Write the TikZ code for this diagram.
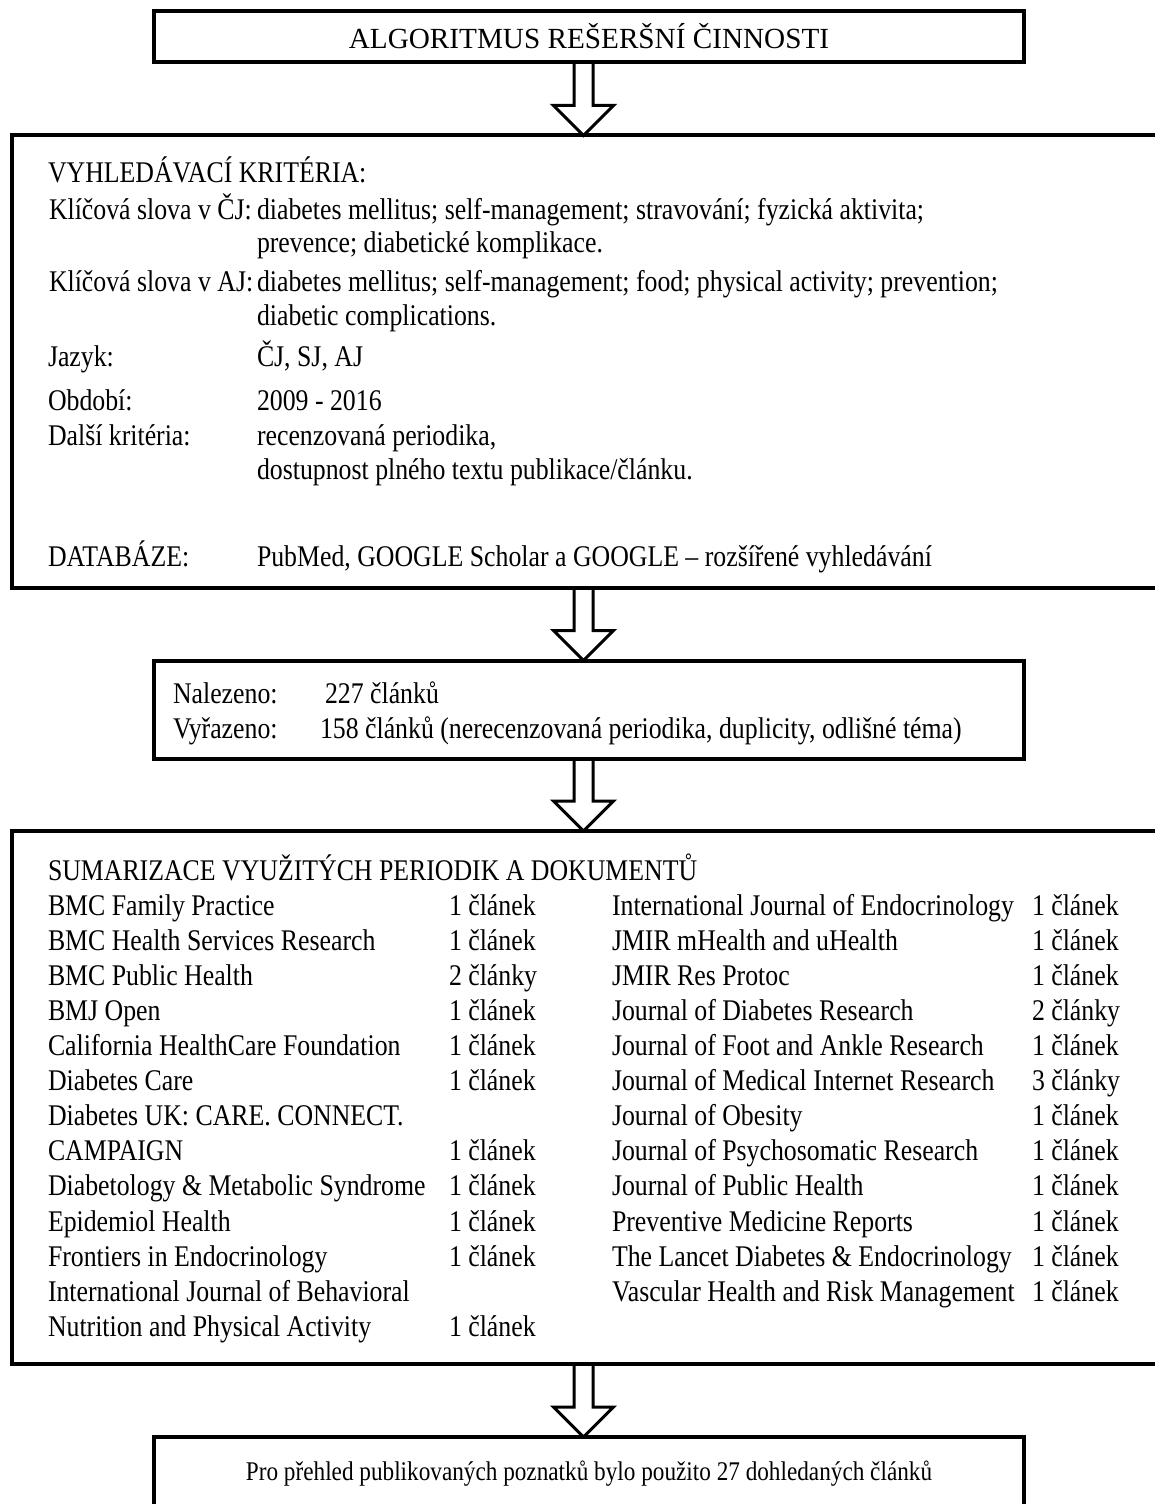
\documentclass[tikz,border=0pt]{standalone}
\usepackage{fontspec}
\setmainfont[FakeStretch=0.86]{Liberation Serif}
\newfontfamily\titlefont{Liberation Serif}
\usetikzlibrary{calc}

\tikzset{
  box/.style={draw, line width=2pt, inner sep=0pt, outer sep=0pt, anchor=north west},
  txt/.style={anchor=base west, inner sep=0pt, outer sep=0pt},
  hollow/.style={draw, line width=1.5pt, line join=miter},
}

\begin{document}
\begin{tikzpicture}[x=0.5pt, y=-0.5pt, every node/.style={font=\fontsize{15pt}{17.35pt}\selectfont}]

\useasboundingbox (0,0) rectangle (1155,1504);

\node[box, minimum width=435pt, minimum height=25.5pt, font=\titlefont\fontsize{14.6pt}{17pt}\selectfont] (title) at (154,11) {ALGORITMUS REŠERŠNÍ ČINNOSTI};
\node[box, minimum width=581.5pt, minimum height=226.25pt] (criteria) at (12,135.5) {};
\node[box, minimum width=435pt, minimum height=49pt] (found) at (154,660.5) {};
\node[box, minimum width=581.5pt, minimum height=266.5pt] (summary) at (12,831) {};
\node[box, minimum width=435pt, minimum height=37pt, font=\fontsize{13.5pt}{16pt}\selectfont] (result) at (154,1437) {Pro přehled publikovaných poznatků bylo použito 27 dohledaných článků};

\coordinate (axis) at (583.5,0);

\draw[hollow] ($(axis |- title.south)+(-9.5,0)$) -- ($(axis |- criteria.north)+(-9.5,-30)$) -- ($(axis |- criteria.north)+(-30,-30)$) -- (axis |- criteria.north) -- ($(axis |- criteria.north)+(30,-30)$) -- ($(axis |- criteria.north)+(9.5,-30)$) -- ($(axis |- title.south)+(9.5,0)$);
\draw[hollow] ($(axis |- criteria.south)+(-9.5,0)$) -- ($(axis |- found.north)+(-9.5,-30)$) -- ($(axis |- found.north)+(-30,-30)$) -- (axis |- found.north) -- ($(axis |- found.north)+(30,-30)$) -- ($(axis |- found.north)+(9.5,-30)$) -- ($(axis |- criteria.south)+(9.5,0)$);
\draw[hollow] ($(axis |- found.south)+(-9.5,0)$) -- ($(axis |- summary.north)+(-9.5,-30)$) -- ($(axis |- summary.north)+(-30,-30)$) -- (axis |- summary.north) -- ($(axis |- summary.north)+(30,-30)$) -- ($(axis |- summary.north)+(9.5,-30)$) -- ($(axis |- found.south)+(9.5,0)$);
\draw[hollow] ($(axis |- summary.south)+(-9.5,0)$) -- ($(axis |- result.north)+(-9.5,-30)$) -- ($(axis |- result.north)+(-30,-30)$) -- (axis |- result.north) -- ($(axis |- result.north)+(30,-30)$) -- ($(axis |- result.north)+(9.5,-30)$) -- ($(axis |- summary.south)+(9.5,0)$);

% vyhledavaci kriteria
\node[txt] (crit) at (48,182) {VYHLEDÁVACÍ KRITÉRIA:};
\node[txt] (kwcz) at (49,219) {Klíčová slova v ČJ:};
\node[txt] (kwczA) at (257,219) {diabetes mellitus; self-management; stravování; fyzická aktivita;};
\node[txt] (kwczB) at (257,252) {prevence; diabetické komplikace.};
\node[txt] (kwen) at (49,291) {Klíčová slova v AJ:};
\node[txt] (kwenA) at (257,291) {diabetes mellitus; self-management; food; physical activity; prevention;};
\node[txt] (kwenB) at (257,325) {diabetic complications.};
\node[txt] (lang) at (48,366) {Jazyk:};
\node[txt] (langA) at (257,366) {ČJ, SJ, AJ};
\node[txt] (period) at (48,410) {Období:};
\node[txt] (periodA) at (257,410) {2009 - 2016};
\node[txt] (other) at (48,445) {Další kritéria:};
\node[txt] (otherA) at (257,445) {recenzovaná periodika,};
\node[txt] (otherB) at (257,479) {dostupnost plného textu publikace/článku.};
\node[txt] (db) at (48,566) {DATABÁZE:};
\node[txt] (dbA) at (257,566) {PubMed, GOOGLE Scholar a GOOGLE – rozšířené vyhledávání};

% nalezeno / vyrazeno
\node[txt] (fnd) at (173,703) {Nalezeno:};
\node[txt] (fndA) at (325,703) {227 článků};
\node[txt] (rej) at (173,738) {Vyřazeno:};
\node[txt] (rejA) at (320,738) {158 článků (nerecenzovaná periodika, duplicity, odlišné téma)};

% sumarizace
\node[txt] (sum) at (48,880) {SUMARIZACE VYUŽITÝCH PERIODIK A DOKUMENTŮ};

\node[txt] (l1) at (48,915.1) {BMC Family Practice};
\node[txt] (l1n) at (449,915.1) {1 článek};
\node[txt] (l2) at (48,950.2) {BMC Health Services Research};
\node[txt] (l2n) at (449,950.2) {1 článek};
\node[txt] (l3) at (48,985.3) {BMC Public Health};
\node[txt] (l3n) at (449,985.3) {2 články};
\node[txt] (l4) at (48,1020.4) {BMJ Open};
\node[txt] (l4n) at (449,1020.4) {1 článek};
\node[txt] (l5) at (48,1055.5) {California HealthCare Foundation};
\node[txt] (l5n) at (449,1055.5) {1 článek};
\node[txt] (l6) at (48,1090.6) {Diabetes Care};
\node[txt] (l6n) at (449,1090.6) {1 článek};
\node[txt] (l7) at (48,1125.7) {Diabetes UK: CARE. CONNECT.};
\node[txt] (l8) at (48,1160.8) {CAMPAIGN};
\node[txt] (l8n) at (449,1160.8) {1 článek};
\node[txt] (l9) at (48,1195.9) {Diabetology \& Metabolic Syndrome};
\node[txt] (l9n) at (449,1195.9) {1 článek};
\node[txt] (l10) at (48,1231) {Epidemiol Health};
\node[txt] (l10n) at (449,1231) {1 článek};
\node[txt] (l11) at (48,1266.1) {Frontiers in Endocrinology};
\node[txt] (l11n) at (449,1266.1) {1 článek};
\node[txt] (l12) at (48,1301.2) {International Journal of Behavioral};
\node[txt] (l13) at (48,1336.3) {Nutrition and Physical Activity};
\node[txt] (l13n) at (449,1336.3) {1 článek};

\node[txt] (r1) at (612,915.1) {International Journal of Endocrinology};
\node[txt] (r1n) at (1032,915.1) {1 článek};
\node[txt] (r2) at (612,950.2) {JMIR mHealth and uHealth};
\node[txt] (r2n) at (1032,950.2) {1 článek};
\node[txt] (r3) at (612,985.3) {JMIR Res Protoc};
\node[txt] (r3n) at (1032,985.3) {1 článek};
\node[txt] (r4) at (612,1020.4) {Journal of Diabetes Research};
\node[txt] (r4n) at (1032,1020.4) {2 články};
\node[txt] (r5) at (612,1055.5) {Journal of Foot and Ankle Research};
\node[txt] (r5n) at (1032,1055.5) {1 článek};
\node[txt] (r6) at (612,1090.6) {Journal of Medical Internet Research};
\node[txt] (r6n) at (1032,1090.6) {3 články};
\node[txt] (r7) at (612,1125.7) {Journal of Obesity};
\node[txt] (r7n) at (1032,1125.7) {1 článek};
\node[txt] (r8) at (612,1160.8) {Journal of Psychosomatic Research};
\node[txt] (r8n) at (1032,1160.8) {1 článek};
\node[txt] (r9) at (612,1195.9) {Journal of Public Health};
\node[txt] (r9n) at (1032,1195.9) {1 článek};
\node[txt] (r10) at (612,1231) {Preventive Medicine Reports};
\node[txt] (r10n) at (1032,1231) {1 článek};
\node[txt] (r11) at (612,1266.1) {The Lancet Diabetes \& Endocrinology};
\node[txt] (r11n) at (1032,1266.1) {1 článek};
\node[txt] (r12) at (612,1301.2) {Vascular Health and Risk Management};
\node[txt] (r12n) at (1032,1301.2) {1 článek};

\end{tikzpicture}
\end{document}
